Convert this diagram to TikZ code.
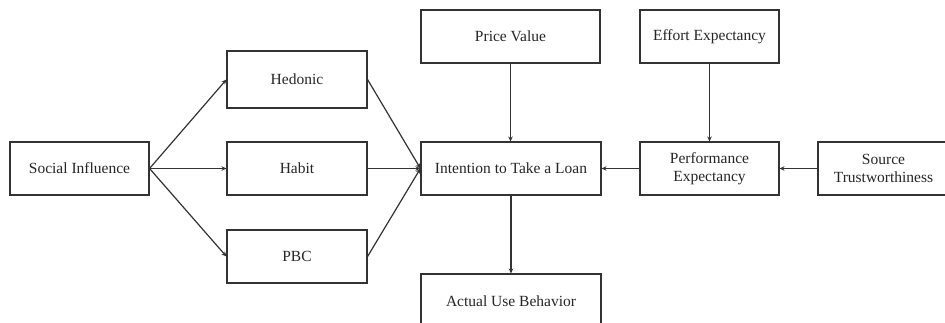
\documentclass[tikz,border=0pt]{standalone}
\usepackage{fontspec}
\setmainfont{Liberation Serif}
\usetikzlibrary{arrows.meta}
\begin{document}
\begin{tikzpicture}[x=1pt,y=-1pt,
  box/.style={draw=black!80,line width=1.1pt,align=center,font=\fontsize{15.5}{18.5}\selectfont,text=black!85,inner sep=0pt},
  arr/.style={draw=black!80,line width=1.2pt,-{Stealth[length=5pt,width=4.5pt]}}]
\useasboundingbox (0,0) rectangle (945,323);
\clip (0,0) rectangle (945,323);
\fill[white] (0,0) rectangle (945,323);
\node[box,minimum width=139pt,minimum height=53pt] (si) at (79.5,168.5) {Social Influence};
\node[box,minimum width=140pt,minimum height=57pt] (hed) at (297,79.5) {Hedonic};
\node[box,minimum width=140pt,minimum height=53pt] (hab) at (297,168.5) {Habit};
\node[box,minimum width=140pt,minimum height=53pt] (pbc) at (297,256.5) {PBC};
\node[box,minimum width=180pt,minimum height=53pt] (int) at (511,168.5) {Intention to Take a Loan};
\node[box,minimum width=179pt,minimum height=53pt] (pv) at (510.5,36.5) {Price Value};
\node[box,minimum width=180pt,minimum height=54pt] (au) at (511,301) {Actual Use Behavior};
\node[box,minimum width=139pt,minimum height=53pt] (ee) at (709.5,36.5) {Effort Expectancy};
\node[box,minimum width=139pt,minimum height=53pt] (pe) at (709.5,168.5) {Performance\\Expectancy};
\node[box,minimum width=131pt,minimum height=53pt] (st) at (883.5,168.5) {Source\\Trustworthiness};
\draw[arr] (si.east) -- (hed.west);
\draw[arr] (si.east) -- (hab.west);
\draw[arr] (si.east) -- (pbc.west);
\draw[arr] (hed.east) -- (int.west);
\draw[arr] (hab.east) -- (int.west);
\draw[arr] (pbc.east) -- (int.west);
\draw[arr] (pv.south) -- (pv.south |- int.north);
\draw[arr] (int.south) -- (au.north);
\draw[arr] (ee.south) -- (pe.north);
\draw[arr] (pe.west) -- (int.east);
\draw[arr] (st.west) -- (pe.east);
\end{tikzpicture}
\end{document}
